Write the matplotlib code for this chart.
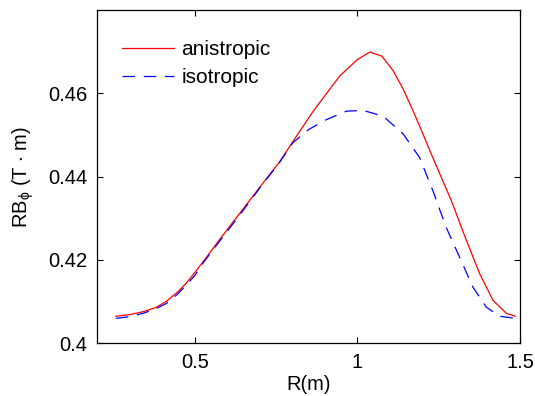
import matplotlib
matplotlib.use('Agg')
import matplotlib.pyplot as plt

plt.rcParams['font.family'] = ['Liberation Sans', 'DejaVu Sans']
plt.rcParams['mathtext.fontset'] = 'custom'
plt.rcParams['mathtext.rm'] = 'Liberation Sans'
plt.rcParams['mathtext.it'] = 'Liberation Sans:italic'

# values
r_aniso = [0.257, 0.30, 0.341, 0.38, 0.413, 0.448, 0.474, 0.5, 0.536, 0.573,
           0.636, 0.699, 0.762, 0.802, 0.864, 0.946, 1.0, 1.038, 1.075, 1.109,
           1.14, 1.171, 1.2, 1.232, 1.289, 1.335, 1.376, 1.417, 1.458, 1.485]
rb_aniso = [0.4065, 0.4069, 0.4076, 0.4086, 0.4101, 0.4124, 0.4145, 0.417, 0.4207, 0.4246,
            0.431, 0.4374, 0.4437, 0.4485, 0.4557, 0.4642, 0.4681, 0.4699, 0.4689, 0.4655,
            0.4611, 0.4558, 0.4505, 0.4445, 0.4342, 0.4247, 0.4167, 0.4103, 0.4072, 0.4065]

r_iso = [0.257, 0.30, 0.341, 0.38, 0.413, 0.448, 0.474, 0.5, 0.531, 0.573,
         0.636, 0.699, 0.762, 0.802, 0.85, 0.905, 0.966, 1.017, 1.079, 1.14,
         1.191, 1.232, 1.273, 1.314, 1.355, 1.396, 1.437, 1.485]
rb_iso = [0.406, 0.4064, 0.4072, 0.4083, 0.4096, 0.4119, 0.4140, 0.4163, 0.4199, 0.4242,
          0.4306, 0.4372, 0.4436, 0.4482, 0.4513, 0.4537, 0.4557, 0.4559, 0.4545, 0.4503,
          0.4446, 0.4366, 0.4278, 0.4207, 0.4135, 0.4087, 0.4065, 0.406]

xticks = [0.5, 1, 1.5]
xticklabels = ['0.5', '1', '1.5']
yticks = [0.4, 0.42, 0.44, 0.46]
yticklabels = ['0.4', '0.42', '0.44', '0.46']

fig = plt.figure(figsize=(5.35, 3.96), dpi=100)
ax = fig.add_axes([0.182, 0.133, 0.790, 0.842])

ax.plot(r_aniso, rb_aniso, color='red', lw=0.9, label='anistropic')
ax.plot(r_iso, rb_iso, color='blue', lw=0.9, ls=(0, (10, 7)), label='isotropic')

ax.set_xlim(0.2, 1.5)
ax.set_ylim(0.4, 0.48)
ax.set_xticks(xticks)
ax.set_xticklabels(xticklabels)
ax.set_yticks(yticks)
ax.set_yticklabels(yticklabels)
ax.tick_params(direction='in', top=True, right=True, length=4, labelsize=14.5, pad=7)
for s in ax.spines.values():
    s.set_linewidth(0.9)

ax.set_xlabel('R(m)', fontsize=14.5, labelpad=2)
ax.set_ylabel(r'RB$_{\mathrm{\phi}}$ (T $\cdot$ m)', fontsize=14.5, labelpad=9)

ax.legend(loc='upper left', frameon=False, fontsize=15, handlelength=2.5,
          handletextpad=0.35, labelspacing=0.45, borderpad=0, borderaxespad=0,
          bbox_to_anchor=(0.058, 0.91))

fig.savefig('out.png', dpi=100)
